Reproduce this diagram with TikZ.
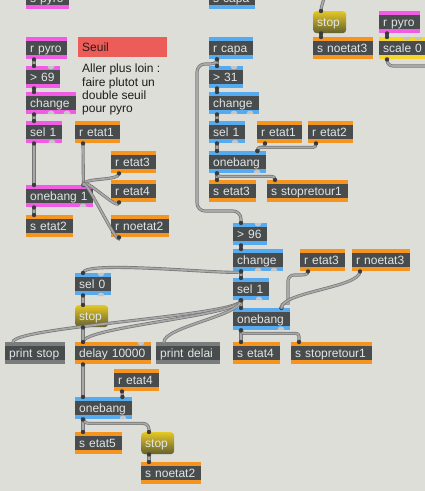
\documentclass[tikz,border=0pt]{standalone}
\usepackage{fontspec}
\setmainfont{Liberation Sans}
\usetikzlibrary{decorations.markings}
\definecolor{bgc}{RGB}{222,222,216}
\definecolor{body}{RGB}{72,76,76}
\definecolor{txt}{RGB}{226,229,229}
\definecolor{mag}{RGB}{242,92,228}
\definecolor{blu}{RGB}{86,170,240}
\definecolor{ora}{RGB}{245,148,30}
\definecolor{yel}{RGB}{246,212,44}
\definecolor{gry}{RGB}{122,125,125}
\definecolor{seuilc}{RGB}{236,92,88}
\definecolor{seuilt}{RGB}{45,25,25}
\definecolor{notec}{RGB}{28,28,28}
\definecolor{bumpc}{RGB}{196,197,200}
\definecolor{cedge}{RGB}{118,118,118}
\definecolor{cfill}{RGB}{168,168,168}
\definecolor{dotc}{RGB}{58,60,60}
\definecolor{msgtop}{RGB}{228,198,38}
\definecolor{msgbot}{RGB}{98,96,48}
\newcommand{\pbT}[2]{\fill[bumpc] (#1-3.5,#2) arc[start angle=180,end angle=360,radius=3.5pt] -- cycle;}
\newcommand{\pbB}[2]{\fill[bumpc] (#1-3.5,#2) arc[start angle=180,end angle=0,radius=3.5pt] -- cycle;}
\tikzset{
 boxfont/.style={font=\fontsize{12}{14}\selectfont},
 obj/.style={anchor=north west, fill=body, text=txt, boxfont, inner xsep=4pt, inner ysep=0pt,
   minimum height=22pt, text height=10.5pt, text depth=1.9pt, align=left,
   path picture={\fill[#1] (path picture bounding box.north west) rectangle ([yshift=-4pt]path picture bounding box.north east);
                 \fill[#1] ([yshift=4pt]path picture bounding box.south west) rectangle (path picture bounding box.south east);}},
 msg/.style={anchor=north west, rounded corners=3.5pt, top color=msgtop, bottom color=msgbot, text=txt, boxfont,
   inner xsep=4pt, inner ysep=0pt, minimum height=22pt, text height=10.5pt, text depth=1.9pt, align=left, text width=25pt},
 cord/.style={draw=cedge, line width=0.7pt, double=cfill, double distance=1.7pt, line cap=round,
   postaction={decorate, decoration={markings,
     mark=at position 0 with {\fill[dotc] (0,0) circle (2.2pt);},
     mark=at position 1 with {\fill[dotc] (0,0) circle (2.2pt);}}}},
}
\begin{document}
\begin{tikzpicture}[x=1pt,y=-1pt]
\fill[bgc] (0,0) rectangle (425,491);
\useasboundingbox (0,0) rectangle (425,491);
\clip (0,0) rectangle (425,491);

% ---- left column (pyro)
\node[obj=mag, text width=35pt] (spyro) at (26,-13) {s pyro};
\node[obj=mag, text width=33pt] (rpyroA) at (26,37) {r pyro};
\node[obj=mag, text width=26pt] (gtA) at (26,66) {> 69};
\node[obj=mag, text width=42pt] (chgA) at (26,92) {change};
\node[obj=mag, text width=28pt] (selA) at (26,121) {sel 1};
\node[obj=ora, text width=37pt] (retat1A) at (75,121) {r etat1};
\node[obj=ora, text width=37pt] (retat3A) at (111,151) {r etat3};
\node[obj=ora, text width=37pt] (retat4A) at (111,180) {r etat4};
\node[obj=mag, text width=59pt] (obA) at (26,185) {onebang 1};
\node[obj=ora, text width=39pt] (setat2) at (26,215) {s etat2};
\node[obj=ora, text width=50pt] (rnoetat2A) at (111,215) {r noetat2};

% comments
\node[anchor=north west, fill=seuilc, text=seuilt, boxfont, inner xsep=4pt, inner ysep=0pt, minimum height=20pt,
  text width=81pt, text height=10.5pt, text depth=1.9pt, align=left] (seuil) at (78,37) {Seuil};
\node[anchor=north west, text=notec, font=\fontsize{12}{13.3}\selectfont, inner sep=0pt, align=left] (note) at (82,64)
  {Aller plus loin :\\faire plutot un\\double seuil\\pour pyro};

% ---- top right
\node[msg] (stopT) at (313,11) {stop};
\node[obj=ora, text width=52pt] (snoetat3) at (313,37) {s noetat3};
\node[obj=mag, text width=33pt] (rpyroR) at (379,11) {r pyro};
\node[obj=yel, text width=52pt] (scale) at (379,37) {scale 0};

% ---- middle column (capa)
\node[obj=blu, text width=38pt] (scapa) at (209,-13) {s capa};
\node[obj=blu, text width=36pt] (rcapa) at (209,37) {r capa};
\node[obj=blu, text width=26pt] (gtB) at (209,66) {> 31};
\node[obj=blu, text width=42pt] (chgB) at (209,92) {change};
\node[obj=blu, text width=28pt] (selB) at (209,121) {sel 1};
\node[obj=ora, text width=37pt] (retat1B) at (257,121) {r etat1};
\node[obj=ora, text width=37pt] (retat2B) at (308,121) {r etat2};
\node[obj=blu, text width=49pt] (obB) at (209,151) {onebang};
\node[obj=ora, text width=39pt] (setat3) at (209,180) {s etat3};
\node[obj=ora, text width=73pt] (sstopB) at (267,180) {s stopretour1};

\node[obj=blu, text width=26pt] (gtC) at (233,223) {> 96};
\node[obj=blu, text width=42pt] (chgC) at (233,249) {change};
\node[obj=ora, text width=37pt] (retat3C) at (300,249) {r etat3};
\node[obj=ora, text width=50pt] (rnoetat3C) at (352,249) {r noetat3};
\node[obj=blu, text width=28pt] (selC) at (233,278) {sel 1};
\node[obj=blu, text width=49pt] (obC) at (233,308) {onebang};
\node[obj=ora, text width=39pt] (setat4) at (233,342) {s etat4};
\node[obj=ora, text width=73pt] (sstopC) at (291,342) {s stopretour1};

% ---- lower left
\node[obj=blu, text width=28pt] (sel0) at (75,273) {sel 0};
\node[msg] (stopA) at (75,305) {stop};
\node[obj=gry, text width=52pt] (printstop) at (5,342) {print stop};
\node[obj=ora, text width=68pt] (delay) at (75,342) {delay 10000};
\node[obj=gry, text width=56pt] (printdelai) at (156,342) {print delai};
\node[obj=ora, text width=37pt] (retat4E) at (114,369) {r etat4};
\node[obj=blu, text width=49pt] (obE) at (75,397) {onebang};
\node[obj=ora, text width=39pt] (setat5) at (75,432) {s etat5};
\node[msg] (stopB) at (141,432) {stop};
\node[obj=ora, text width=52pt] (snoetat2) at (141,462) {s noetat2};

% ---- unconnected inlets / outlets
\pbT{51}{66} \pbB{51}{114} \pbB{67}{114} \pbB{52}{143} \pbB{83}{207}
\pbT{234}{66} \pbB{234}{114} \pbB{250}{114} \pbB{235}{143} \pbB{257}{173}
\pbT{258}{223} \pbB{258}{271} \pbB{274}{271} \pbB{259}{300} \pbB{281}{330}
\pbT{101}{273} \pbB{101}{296} \pbT{141}{342} \pbB{123}{419}
\pbT{407}{37} \pbT{418}{37}

% ---- free ends
\coordinate (topsrc) at (324,-4);
\coordinate (scaleend) at (432,66);

% ---- cords: left column
\draw[cord] ([xshift=8pt]rpyroA.south west) -- ([xshift=8pt]gtA.north west);
\draw[cord] ([xshift=8pt]gtA.south west) -- ([xshift=8pt]chgA.north west);
\draw[cord] ([xshift=8pt]chgA.south west) -- ([xshift=8pt]selA.north west);
\draw[cord] ([xshift=8pt]selA.south west) -- ([xshift=8pt]obA.north west);
\draw[cord] ([xshift=8pt]retat1A.south west) -- ([xshift=-10pt]obA.north east);
\draw[cord] ([xshift=8pt]retat3A.south west) .. controls +(0,8) and +(0,-8) .. ([xshift=-10pt]obA.north east);
\draw[cord] ([xshift=8pt]retat4A.south west) .. controls +(0,10) and +(0,-10) .. ([xshift=-10pt]obA.north east);
\draw[cord] ([xshift=8pt]rnoetat2A.south west) .. controls +(0,12) and +(0,-12) .. ([xshift=-10pt]obA.north east);
\draw[cord] ([xshift=8pt]obA.south west) -- ([xshift=8pt]setat2.north west);

% ---- cords: top right
\draw[cord] (topsrc) .. controls +(0,6) and +(0,-6) .. ([xshift=8pt]stopT.north west);
\draw[cord] ([xshift=8pt]stopT.south west) -- ([xshift=8pt]snoetat3.north west);
\draw[cord] ([xshift=8pt]rpyroR.south west) -- ([xshift=8pt]scale.north west);
\draw[cord, rounded corners=6pt] ([xshift=8pt]scale.south west) |- (scaleend);

% ---- cords: middle column
\draw[cord] ([xshift=8pt]rcapa.south west) -- ([xshift=8pt]gtB.north west);
\draw[cord] ([xshift=8pt]gtB.south west) -- ([xshift=8pt]chgB.north west);
\draw[cord] ([xshift=8pt]chgB.south west) -- ([xshift=8pt]selB.north west);
\draw[cord] ([xshift=8pt]selB.south west) -- ([xshift=8pt]obB.north west);
\draw[cord, rounded corners=3pt] ([xshift=8pt]retat1B.south west) -- ++(0,4) -| ([xshift=-9pt]obB.north east);
\draw[cord, rounded corners=3pt] ([xshift=8pt]retat2B.south west) -- ++(0,4) -| ([xshift=-9pt]obB.north east);
\draw[cord] ([xshift=8pt]obB.south west) -- ([xshift=8pt]setat3.north west);
\draw[cord, rounded corners=3pt] ([xshift=8pt]obB.south west) -- ++(0,3) -| ([xshift=8pt]sstopB.north west);
\draw[cord] ([xshift=8pt]rcapa.south west) .. controls +(0,5) and +(6,0) .. (205,64)
  [rounded corners=8pt] -- (197,64) -- (197,211) -- (241,211) -- ([xshift=8pt]gtC.north west);

% ---- cords: lower middle
\draw[cord] ([xshift=8pt]gtC.south west) -- ([xshift=8pt]chgC.north west);
\draw[cord] ([xshift=8pt]chgC.south west) -- ([xshift=8pt]selC.north west);
\draw[cord] ([xshift=8pt]selC.south west) -- ([xshift=8pt]obC.north west);
\draw[cord] ([xshift=8pt]chgC.south west) .. controls +(0,5) and +(0,-14) .. ([xshift=8pt]sel0.north west);
\draw[cord] ([xshift=8pt]selC.south west) .. controls +(0,15) and +(0,-15) .. ([xshift=8pt]printstop.north west);
\draw[cord] ([xshift=8pt]selC.south west) .. controls +(0,15) and +(0,-15) .. ([xshift=8pt]delay.north west);
\draw[cord] ([xshift=8pt]selC.south west) .. controls +(0,15) and +(0,-15) .. ([xshift=8pt]printdelai.north west);
\draw[cord] ([xshift=8pt]retat3C.south west) .. controls +(0,4) and +(6,0) .. (297,275)
  [rounded corners=6pt] -- (288,275) -- (288,297) .. controls (288,303) and (281,302) .. ([xshift=-9pt]obC.north east);
\draw[cord] ([xshift=8pt]rnoetat3C.south west) .. controls +(0,16) and +(0,-16) .. ([xshift=-9pt]obC.north east);
\draw[cord] ([xshift=8pt]obC.south west) -- ([xshift=8pt]setat4.north west);
\draw[cord, rounded corners=3pt] ([xshift=8pt]obC.south west) -- ++(0,3) -| ([xshift=8pt]sstopC.north west);

% ---- cords: lower left
\draw[cord] ([xshift=8pt]sel0.south west) -- ([xshift=8pt]stopA.north west);
\draw[cord] ([xshift=8pt]stopA.south west) -- ([xshift=8pt]delay.north west);
\draw[cord] ([xshift=8pt]delay.south west) -- ([xshift=8pt]obE.north west);
\draw[cord] ([xshift=8pt]retat4E.south west) -- ([xshift=-10pt]obE.north east);
\draw[cord] ([xshift=8pt]obE.south west) -- ([xshift=8pt]setat5.north west);
\draw[cord, rounded corners=6pt] ([xshift=8pt]obE.south west) -- ++(0,4) -| ([xshift=8pt]stopB.north west);
\draw[cord] ([xshift=8pt]stopB.south west) -- ([xshift=8pt]snoetat2.north west);
\end{tikzpicture}
\end{document}
